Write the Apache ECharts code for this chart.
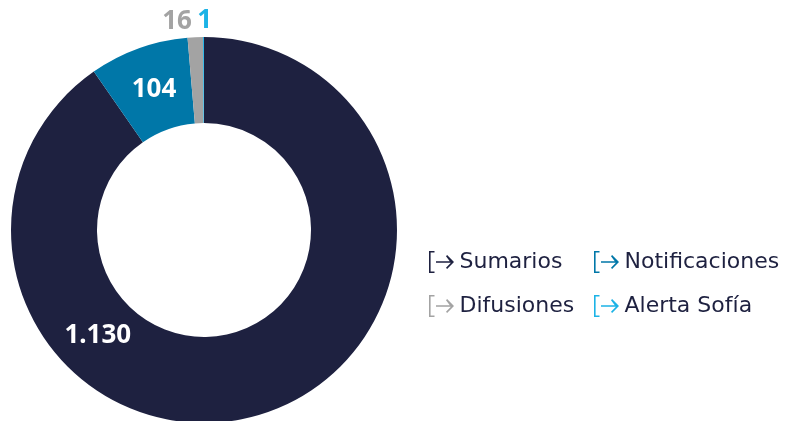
<!DOCTYPE html>
<html><head><meta charset="utf-8">
<script src="https://cdn.jsdelivr.net/npm/echarts@6/dist/echarts.min.js"></script>
<style>html,body{margin:0;padding:0;background:#fff}#c{width:789px;height:421px}</style>
</head><body><div id="c"></div>
<script>
const categories = ['Sumarios', 'Notificaciones', 'Difusiones', 'Alerta Sofía'];
const values = [1130, 104, 16, 1];
const valueLabels = ['1.130', '104', '16', '1'];
const colors = ['#1e2140', '#0077a8', '#a3a3a3', '#1cb3e6'];
const labelColors = ['#ffffff', '#ffffff', '#a3a3a3', '#1cb3e6'];
const labelOffsets = [[-152, -40], [2, 3], [-20, -56], [1, -56]];

const icon = 'path://M0 0L5.5 0L5.5 1.6L1.6 1.6L1.6 20.4L5.5 20.4L5.5 22L0 22Z M7 10.2L23.5 10.2L23.5 11.8L7 11.8Z M17 5.2L18.1 4.1L25 11L18.1 17.9L17 16.8L21.9 11.8Z';
const FONT = 'DejaVu Sans';

const chart = echarts.init(document.getElementById('c'), null, {renderer: 'canvas'});
const legendBase = {
  orient: 'vertical', icon: icon, itemWidth: 26, itemHeight: 22, itemGap: 22,
  textStyle: {fontFamily: FONT, fontSize: 22, color: '#1e2140'},
  selectedMode: false
};
chart.setOption({
  animation: false,
  legend: [
    Object.assign({}, legendBase, {left: 424, top: 246, data: [categories[0], categories[2]]}),
    Object.assign({}, legendBase, {left: 589, top: 246, data: [categories[1], categories[3]]})
  ],
  series: [{
    type: 'pie',
    center: [204, 230],
    radius: [107, 193],
    startAngle: 90,
    clockwise: true,
    avoidLabelOverlap: false,
    label: {show: true, position: 'inside', fontFamily: 'Noto Sans', fontWeight: 'bold', fontSize: 26},
    labelLine: {show: false},
    emphasis: {disabled: true},
    data: categories.map((name, i) => ({
      name: name, value: values[i],
      itemStyle: {color: colors[i]},
      label: {formatter: valueLabels[i], color: labelColors[i], offset: labelOffsets[i]}
    }))
  }]
});
</script></body></html>
